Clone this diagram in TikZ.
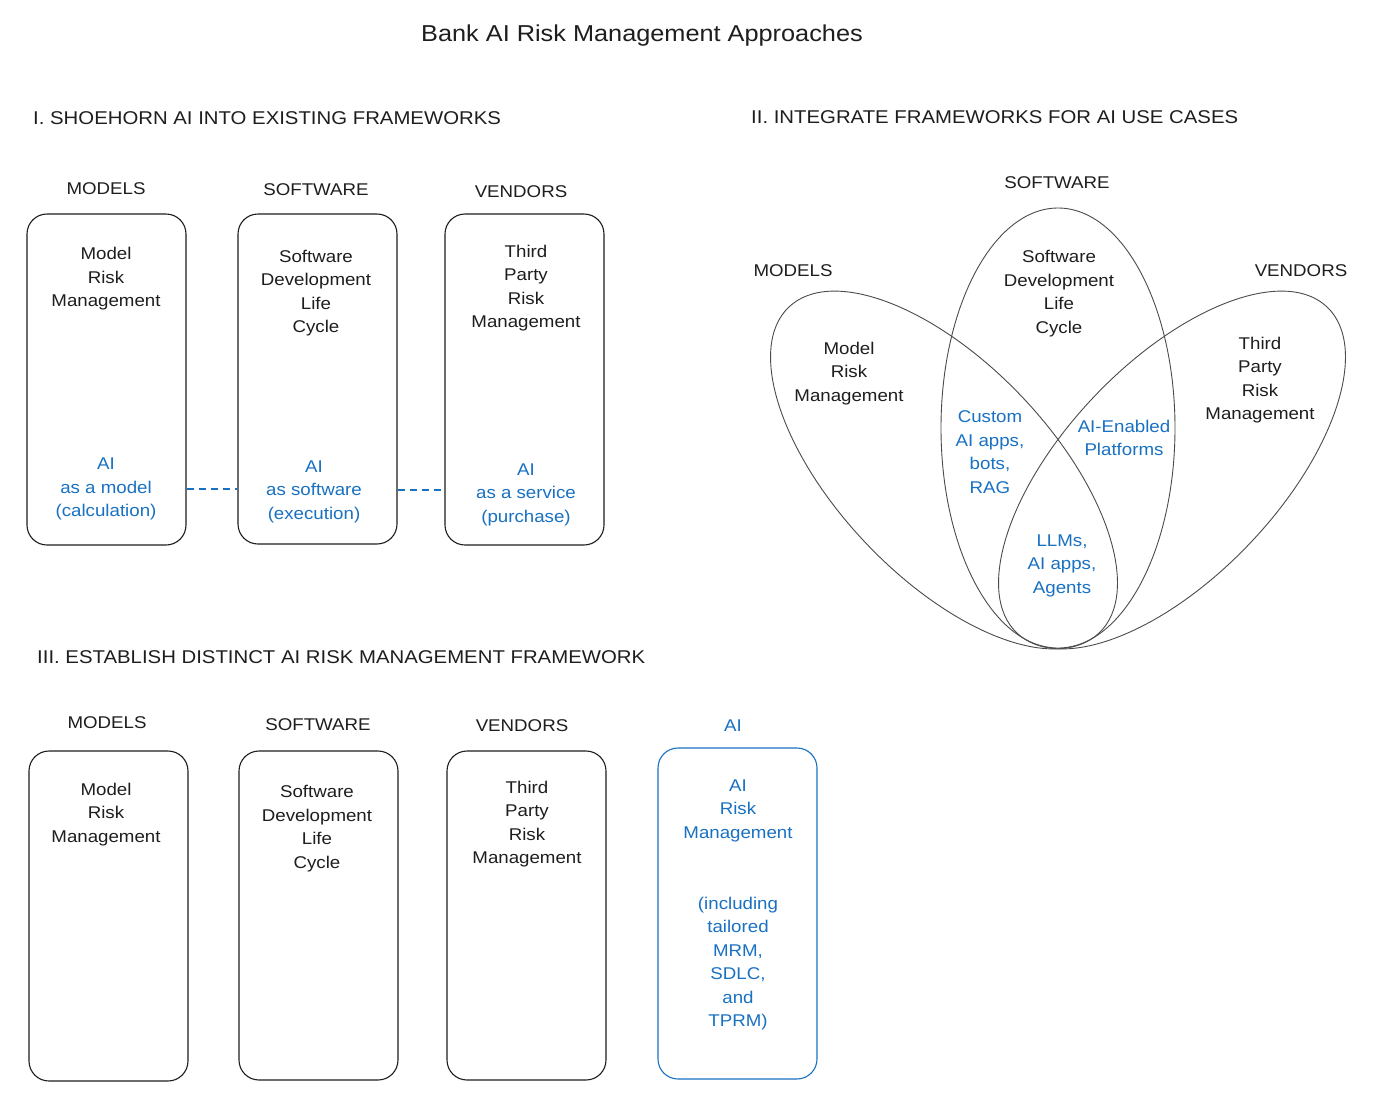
\documentclass[tikz,border=0pt]{standalone}
\usepackage{fontspec}
\setmainfont{Liberation Sans}[FakeStretch=1.1]
\usetikzlibrary{shapes.geometric}
\definecolor{ink}{HTML}{1E1E1E}
\definecolor{aiblue}{HTML}{1971C2}
\begin{document}
\begin{tikzpicture}[x=1pt,y=-1pt,
  txt/.style={font=\fontsize{17}{23.5}\selectfont, text=ink, align=center, inner sep=0pt},
  btxt/.style={txt, text=aiblue},
  hd/.style={font=\fontsize{18.5}{22}\selectfont, text=ink, anchor=west, inner sep=0pt},
  lbl/.style={font=\fontsize{17}{20}\selectfont, text=ink, inner sep=0pt},
  ttl/.style={font=\fontsize{23}{26}\selectfont, text=ink, inner sep=0pt},
  frame/.style={draw=ink, line width=1.1pt, rounded corners=20pt, minimum width=159pt, minimum height=331pt, inner sep=0pt},
  aiframe/.style={frame, draw=aiblue},
  dashline/.style={draw=aiblue, line width=1.1pt, dash pattern=on 7pt off 5pt},
  venn/.style={draw=ink!80, line width=0.9pt, ellipse, inner sep=0pt}
]
\useasboundingbox[fill=white] (0,0) rectangle (1382,1112);

% title and headings
\node[ttl] (title) at (642,36) {Bank AI Risk Management Approaches};
\node[hd] (h1) at (33,118) {I. SHOEHORN AI INTO EXISTING FRAMEWORKS};
\node[hd] (h2) at (751,117) {II. INTEGRATE FRAMEWORKS FOR AI USE CASES};
\node[hd] (h3) at (37,657) {III. ESTABLISH DISTINCT AI RISK MANAGEMENT FRAMEWORK};

% ---------- Section I ----------
\node[lbl] (l1m) at (106,189) {MODELS};
\node[lbl] (l1s) at (316,190) {SOFTWARE};
\node[lbl] (l1v) at (521,192) {VENDORS};

\node[frame] (b1m) at (106.5,379.5) {};
\node[frame, minimum height=330pt] (b1s) at (317.5,379) {};
\node[frame] (b1v) at (524.5,379.5) {};

\node[txt] (t1m) at (106,279) {Model\\Risk\\Management};
\node[txt] (t1s) at (316,293) {Software\\Development\\Life\\Cycle};
\node[txt] (t1v) at (526,288) {Third\\Party\\Risk\\Management};

\node[btxt] (a1m) at (106,489) {AI\\as a model\\(calculation)};
\node[btxt] (a1s) at (314,491.5) {AI\\as software\\(execution)};
\node[btxt] (a1v) at (526,494.5) {AI\\as a service\\(purchase)};

\draw[dashline] (b1m.east |- 0,489) -- (b1s.west |- 0,489);
\draw[dashline] (b1s.east |- 0,490) -- (b1v.west |- 0,490);

% ---------- Section II (Venn) ----------
\node[lbl] (l2s) at (1057,183) {SOFTWARE};
\node[lbl] (l2m) at (793,271) {MODELS};
\node[lbl] (l2v) at (1301,271) {VENDORS};

\node[venn, minimum width=234pt, minimum height=440pt] (es) at (1058,428) {};
\node[venn, minimum width=450pt, minimum height=214pt, rotate=-46.4] (em) at (944,470) {};
\node[venn, minimum width=450pt, minimum height=214pt, rotate=46.4] (ev) at (1172,470) {};

\node[txt] (t2s) at (1059,293.5) {Software\\Development\\Life\\Cycle};
\node[txt] (t2m) at (849,373.5) {Model\\Risk\\Management};
\node[txt] (t2v) at (1260,380) {Third\\Party\\Risk\\Management};

\node[btxt] (c2a) at (990,452) {Custom\\AI apps,\\bots,\\RAG};
\node[btxt] (c2b) at (1124,438) {AI-Enabled\\Platforms};
\node[btxt] (c2c) at (1062,565.5) {LLMs,\\AI apps,\\Agents};

% ---------- Section III ----------
\node[lbl] (l3m) at (107,723) {MODELS};
\node[lbl] (l3s) at (318,725) {SOFTWARE};
\node[lbl] (l3v) at (522,726) {VENDORS};
\node[lbl, text=aiblue] (l3a) at (733,726) {AI};

\node[frame, minimum height=330pt] (b3m) at (108.5,916) {};
\node[frame, minimum height=329pt] (b3s) at (318.5,915.5) {};
\node[frame, minimum height=329pt] (b3v) at (526.5,915.5) {};
\node[aiframe] (b3a) at (737.5,913.5) {};

\node[txt] (t3m) at (106,814.5) {Model\\Risk\\Management};
\node[txt] (t3s) at (317,828.5) {Software\\Development\\Life\\Cycle};
\node[txt] (t3v) at (527,824) {Third\\Party\\Risk\\Management};
\node[btxt] (t3a) at (738,810.5) {AI\\Risk\\Management};
\node[btxt] (t3b) at (738,963.5) {(including\\tailored\\MRM,\\SDLC,\\and\\TPRM)};
\end{tikzpicture}
\end{document}
